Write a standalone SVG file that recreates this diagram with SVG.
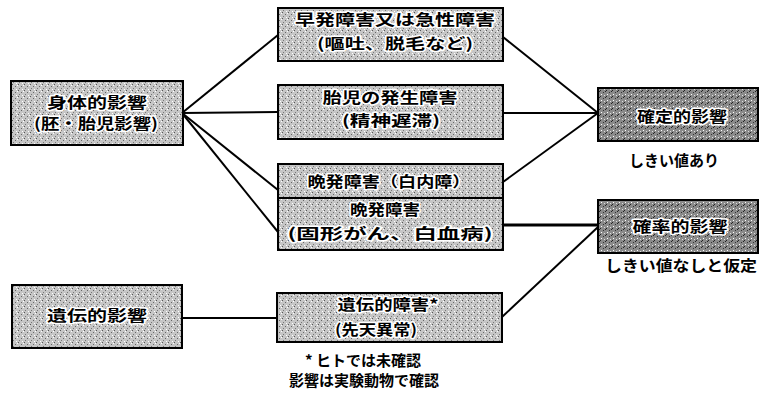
<svg xmlns="http://www.w3.org/2000/svg" width="761" height="395" viewBox="0 0 761 395">
<defs>
<pattern id="grain" width="6" height="6" patternUnits="userSpaceOnUse">
<rect width="6" height="6" fill="#c6c6c6"/>
<rect x="0" y="0" width="1" height="1" fill="#555"/>
<rect x="3" y="2" width="1" height="1" fill="#666"/>
<rect x="1" y="4" width="1" height="1" fill="#777"/>
<rect x="4" y="5" width="1" height="1" fill="#fff"/>
<rect x="5" y="1" width="1" height="1" fill="#fff"/>
</pattern>
<pattern id="grainDark" width="6" height="6" patternUnits="userSpaceOnUse">
<rect width="6" height="6" fill="#8a8a8a"/>
<rect x="0" y="0" width="1" height="1" fill="#222"/>
<rect x="3" y="2" width="1" height="1" fill="#333"/>
<rect x="1" y="4" width="1" height="1" fill="#fff"/>
<rect x="4" y="5" width="1" height="1" fill="#ddd"/>
<rect x="5" y="1" width="1" height="1" fill="#222"/>
</pattern>
</defs>
<style>
.box{fill:url(#grain);stroke:#000;stroke-width:2}
.dbox{fill:url(#grainDark);stroke:#000;stroke-width:2}
.t{font-family:"Noto Sans CJK JP","Noto Sans",sans-serif;font-weight:bold;font-size:15px;fill:#000;text-anchor:middle;stroke:#fff;stroke-width:3;paint-order:stroke;stroke-linejoin:round}
.n{font-family:"Noto Sans CJK JP","Noto Sans",sans-serif;font-weight:bold;font-size:15px;fill:#000;text-anchor:middle}
.c{stroke:#000;stroke-width:2;fill:none}
</style>
<rect width="761" height="395" fill="#fff"/>
<g id="connectors">
<line class="c" x1="182" y1="113" x2="278" y2="35"/>
<line class="c" x1="182" y1="113" x2="278" y2="112"/>
<line class="c" x1="182" y1="113" x2="278" y2="190"/>
<line class="c" x1="182" y1="113" x2="278" y2="232"/>
<line class="c" x1="503" y1="37" x2="598" y2="113"/>
<line class="c" x1="503" y1="113" x2="598" y2="113"/>
<line class="c" x1="503" y1="182" x2="598" y2="113"/>
<line class="c" x1="503" y1="225" x2="598" y2="225" style="stroke-width:3"/>
<line class="c" x1="502" y1="317" x2="598" y2="227"/>
<line class="c" x1="182" y1="318" x2="277" y2="318"/>
</g>
<g id="body">
<rect class="box" x="11" y="81" width="172" height="64"/>
<text class="t" x="97" y="108" textLength="100" lengthAdjust="spacingAndGlyphs">身体的影響</text>
<text class="t" x="96" y="129" textLength="124" lengthAdjust="spacingAndGlyphs">(胚・胎児影響)</text>
</g>
<g id="genetic">
<rect class="box" x="12" y="285" width="170" height="63"/>
<text class="t" x="97" y="321" textLength="100" lengthAdjust="spacingAndGlyphs">遺伝的影響</text>
</g>
<g id="early">
<rect class="box" x="278" y="8" width="225" height="53"/>
<text class="t" x="395" y="25" textLength="200" lengthAdjust="spacingAndGlyphs">早発障害又は急性障害</text>
<text class="t" x="395" y="49" textLength="156" lengthAdjust="spacingAndGlyphs">(嘔吐、脱毛など)</text>
</g>
<g id="fetal">
<rect class="box" x="278" y="85" width="225" height="54"/>
<text class="t" x="390" y="103" textLength="135" lengthAdjust="spacingAndGlyphs">胎児の発生障害</text>
<text class="t" x="391" y="126" textLength="98" lengthAdjust="spacingAndGlyphs">(精神遅滞)</text>
</g>
<g id="cataract">
<rect class="box" x="278" y="164" width="225" height="34"/>
<text class="t" x="389" y="187" textLength="163" lengthAdjust="spacingAndGlyphs">晩発障害（白内障）</text>
</g>
<g id="cancer">
<rect class="box" x="278" y="198" width="225" height="52"/>
<text class="t" x="385" y="215" textLength="70" lengthAdjust="spacingAndGlyphs">晩発障害</text>
<text class="t" x="390" y="239" textLength="205" lengthAdjust="spacingAndGlyphs">(固形がん、白血病)</text>
</g>
<g id="hereditary">
<rect class="box" x="277" y="293" width="225" height="49"/>
<text class="t" x="388" y="310" textLength="101" lengthAdjust="spacingAndGlyphs">遺伝的障害*</text>
<text class="t" x="376" y="335" textLength="82" lengthAdjust="spacingAndGlyphs">(先天異常)</text>
<text class="n" x="363" y="366">* ヒトでは未確認</text>
<text class="n" x="364" y="386">影響は実験動物で確認</text>
</g>
<g id="deterministic">
<rect class="dbox" x="598" y="88" width="160" height="53"/>
<text class="t" x="682" y="122" textLength="90" lengthAdjust="spacingAndGlyphs">確定的影響</text>
<text class="n" x="674" y="166">しきい値あり</text>
</g>
<g id="stochastic">
<rect class="dbox" x="598" y="200" width="160" height="53"/>
<text class="t" x="680" y="232" textLength="95" lengthAdjust="spacingAndGlyphs">確率的影響</text>
<text class="n" x="681" y="271" textLength="152" lengthAdjust="spacingAndGlyphs">しきい値なしと仮定</text>
</g>
</svg>
